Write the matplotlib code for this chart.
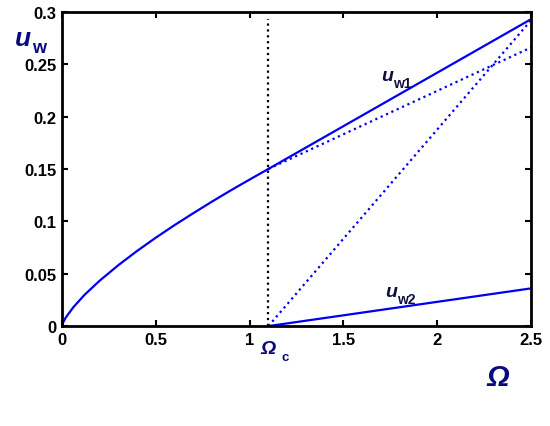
import matplotlib
matplotlib.use("Agg")
import matplotlib.pyplot as plt

# --- data ---
omega_c = 1.1
# u_w below the critical frequency (single curve)
omega_low = [0, 0.005, 0.02, 0.06, 0.12, 0.2, 0.3, 0.4, 0.5, 0.6, 0.7, 0.8, 0.9, 1.0, 1.1]
uw_low = [0, 0.003, 0.0081, 0.0179, 0.0298, 0.0432, 0.0581, 0.0717, 0.0844,
          0.0964, 0.1078, 0.1189, 0.1296, 0.1399, 0.15]
# branches above the critical frequency
omega_high = [1.1, 2.5]
uw1_solid = [0.15, 0.293]
uw1_dotted = [0.15, 0.266]
uw_steep_dotted = [0.0, 0.292]
uw2_solid = [0.0, 0.036]
vline_top = 0.293

xticks = [0, 0.5, 1, 1.5, 2, 2.5]
xticklabels = ['0', '0.5', '1', '1.5', '2', '2.5']
yticks = [0, 0.05, 0.1, 0.15, 0.2, 0.25, 0.3]
yticklabels = ['0', '0.05', '0.1', '0.15', '0.2', '0.25', '0.3']

FONT = 'Liberation Sans'
BLUE = '#0000F0'
NAVY = '#0A0A80'

fig = plt.figure(figsize=(5.5, 4.27), dpi=100)
ax = fig.add_axes([0.1127, 0.234, 0.853, 0.736])

ax.plot(omega_low, uw_low, color=BLUE, lw=1.6)
ax.plot(omega_high, uw1_solid, color=BLUE, lw=1.6)
ax.plot(omega_high, uw1_dotted, color=BLUE, lw=1.6, ls=':')
ax.plot(omega_high, uw_steep_dotted, color=BLUE, lw=1.6, ls=':')
ax.plot(omega_high, uw2_solid, color=BLUE, lw=1.6)
ax.plot([omega_c, omega_c], [0, vline_top], color='black', lw=1.6, ls=':')

ax.set_xlim(0, 2.5)
ax.set_ylim(0, 0.3)
ax.set_xticks(xticks)
ax.set_xticklabels(xticklabels)
ax.set_yticks(yticks)
ax.set_yticklabels(yticklabels)
ax.tick_params(direction='in', length=4, width=1.5, top=True, right=True,
               labelsize=12, pad=4)
for lab in ax.get_xticklabels() + ax.get_yticklabels():
    lab.set_fontfamily(FONT)
    lab.set_fontweight('bold')
for sp in ax.spines.values():
    sp.set_linewidth(2)

# axis labels
fig.text(0.027, 0.893, 'u', family=FONT, style='italic', weight='bold',
         fontsize=19, color=NAVY, ha='left', va='baseline')
fig.text(0.059, 0.875, 'w', family=FONT, weight='bold',
         fontsize=13, color=NAVY, ha='left', va='baseline')
fig.text(0.885, 0.095, 'Ω', family=FONT, style='italic', weight='bold',
         fontsize=21, color=NAVY, ha='left', va='baseline')

# in-plot labels
def sublabel(x, y, sub, color=NAVY):
    ax.text(x, y, 'u', family=FONT, style='italic', weight='bold',
            fontsize=14, color=color, ha='left', va='baseline')
    ax.text(x + 0.065, y - 0.007, sub, family=FONT, weight='bold',
            fontsize=10, color=color, ha='left', va='baseline')

sublabel(1.70, 0.235, 'w1', color='#101040')
sublabel(1.72, 0.029, 'w2', color='#101040')

ax.text(1.1, -0.026, 'Ω', family=FONT, style='italic', weight='bold',
        fontsize=14, color=NAVY, ha='center', va='baseline', clip_on=False)
ax.text(1.17, -0.032, 'c', family=FONT, weight='bold',
        fontsize=9.5, color=NAVY, ha='left', va='baseline', clip_on=False)

fig.savefig('out.png', dpi=100)
